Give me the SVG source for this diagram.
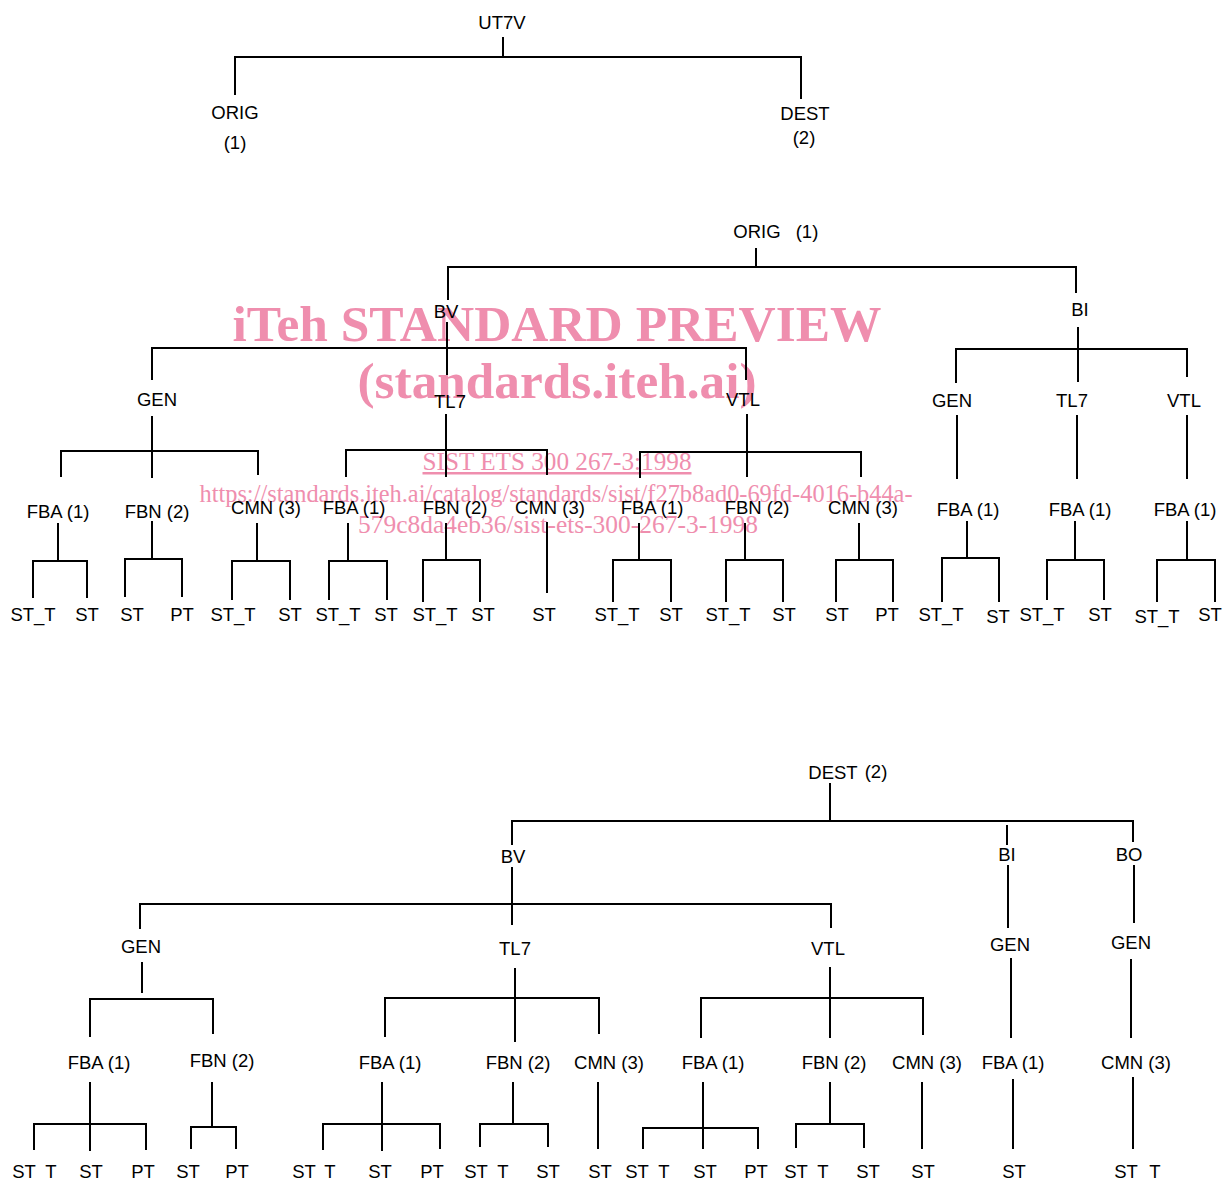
<svg xmlns="http://www.w3.org/2000/svg" width="1223" height="1180" viewBox="0 0 1223 1180">
<style>
.bg{fill:#ffffff}
.wm{font-family:"Liberation Serif","Times New Roman",serif;fill:#ef8eae;text-anchor:middle}
.wmb{font-weight:bold;font-size:51px}
.wms{font-size:25px}
.t{font-family:"Liberation Sans",Arial,sans-serif;font-size:18.5px;fill:#000;text-anchor:middle}
.c path{fill:none;stroke:#000;stroke-width:2}
</style>
<rect class="bg" x="0" y="0" width="1223" height="1180"/>
<g id="watermark">
<text class="wm wmb" x="557" y="341" textLength="649" lengthAdjust="spacingAndGlyphs">iTeh STANDARD PREVIEW</text>
<text class="wm wmb" x="557" y="398" textLength="399" lengthAdjust="spacingAndGlyphs">(standards.iteh.ai)</text>
<text class="wm wms" x="557" y="470" text-decoration="underline" textLength="269" lengthAdjust="spacingAndGlyphs">SIST ETS 300 267-3:1998</text>
<text class="wm wms" x="556" y="502" textLength="713" lengthAdjust="spacingAndGlyphs">https://standards.iteh.ai/catalog/standards/sist/f27b8ad0-69fd-4016-b44a-</text>
<text class="wm wms" x="558" y="533" textLength="400" lengthAdjust="spacingAndGlyphs">579c8da4eb36/sist-ets-300-267-3-1998</text>
</g>
<g id="connectors" class="c">
<!-- top -->
<path d="M503 37V57M235 95V57H801V99"/>
<!-- ORIG tree -->
<path d="M756 248V267M448 300V267H1076V293"/>
<path d="M447 322V375M152 380V348H746V380"/>
<path d="M152 416V478M61 477V451H258V475"/>
<path d="M446 414V477M346 477V450H547V475"/>
<path d="M747 414V477M640 478V452H861V477"/>
<path d="M58 523V561M33 598V561H87V598"/>
<path d="M152 521V559M125 597V559H182V597"/>
<path d="M257 523V561M232 600V561H290V600"/>
<path d="M348 523V561M329 600V561H387V600"/>
<path d="M446 523V560M423 602V560H480V602"/>
<path d="M547 522V593"/>
<path d="M639 523V560M613 602V560H671V602"/>
<path d="M745 523V560M726 602V560H783V602"/>
<path d="M859 523V560M836 602V560H893V602"/>
<path d="M1078 327V382M956 383V349H1187V377"/>
<path d="M957 415V479M1077 415V479M1187 415V479"/>
<path d="M967 521V558M942 602V558H999V602"/>
<path d="M1075 521V560M1047 600V560H1104V600"/>
<path d="M1187 521V560M1157 602V560H1215V602"/>
<!-- DEST tree -->
<path d="M830 783V821M512 845V821H1133V842M1007 825V845"/>
<path d="M512 867V925M140 929V904H831V928"/>
<path d="M1008 865V928M1011 958V1038M1013 1079V1149"/>
<path d="M1134 865V923M1131 959V1038M1133 1077V1149"/>
<path d="M142 962V993M90 1037V999H213V1034"/>
<path d="M90 1082V1151M34 1150V1124H146V1150"/>
<path d="M212 1082V1127M191 1149V1127H236V1149"/>
<path d="M515 968V1042M385 1037V998H599V1034"/>
<path d="M382 1082V1151M323 1150V1124H440V1149"/>
<path d="M513 1082V1124M480 1147V1124H548V1147"/>
<path d="M598 1082V1149"/>
<path d="M830 967V1038M701 1038V998H923V1035"/>
<path d="M703 1082V1149M643 1149V1128H758V1149"/>
<path d="M830 1082V1124M796 1148V1124H864V1148"/>
<path d="M922 1082V1149"/>
</g>
<g id="n-ut7v"><text class="t" x="502" y="29">UT7V</text></g>
<g id="n-orig-top"><text class="t" x="235" y="119">ORIG</text><text class="t" x="235" y="149">(1)</text></g>
<g id="n-dest-top"><text class="t" x="805" y="120">DEST</text><text class="t" x="804" y="144">(2)</text></g>
<g id="n-orig"><text class="t" x="757" y="238">ORIG</text><text class="t" x="807" y="238">(1)</text></g>
<g id="n-o-bv"><text class="t" x="446" y="318">BV</text></g>
<g id="n-o-bi"><text class="t" x="1080" y="316">BI</text></g>
<g id="n-o-bv-gen"><text class="t" x="157" y="406">GEN</text></g>
<g id="n-o-bv-tl7"><text class="t" x="450" y="408">TL7</text></g>
<g id="n-o-bv-vtl"><text class="t" x="743" y="406">VTL</text></g>
<g id="n-o-bi-gen"><text class="t" x="952" y="407">GEN</text></g>
<g id="n-o-bi-tl7"><text class="t" x="1072" y="407">TL7</text></g>
<g id="n-o-bi-vtl"><text class="t" x="1184" y="407">VTL</text></g>
<g id="n-o-fb-row">
<text class="t" x="58" y="518">FBA (1)</text>
<text class="t" x="157" y="518">FBN (2)</text>
<text class="t" x="266" y="514">CMN (3)</text>
<text class="t" x="354" y="514">FBA (1)</text>
<text class="t" x="455" y="514">FBN (2)</text>
<text class="t" x="550" y="514">CMN (3)</text>
<text class="t" x="652" y="514">FBA (1)</text>
<text class="t" x="757" y="514">FBN (2)</text>
<text class="t" x="863" y="514">CMN (3)</text>
<text class="t" x="968" y="516">FBA (1)</text>
<text class="t" x="1080" y="516">FBA (1)</text>
<text class="t" x="1185" y="516">FBA (1)</text>
</g>
<g id="n-o-leaves">
<text class="t" x="33" y="621">ST_T</text>
<text class="t" x="87" y="621">ST</text>
<text class="t" x="132" y="621">ST</text>
<text class="t" x="182" y="621">PT</text>
<text class="t" x="233" y="621">ST_T</text>
<text class="t" x="290" y="621">ST</text>
<text class="t" x="338" y="621">ST_T</text>
<text class="t" x="386" y="621">ST</text>
<text class="t" x="435" y="621">ST_T</text>
<text class="t" x="483" y="621">ST</text>
<text class="t" x="544" y="621">ST</text>
<text class="t" x="617" y="621">ST_T</text>
<text class="t" x="671" y="621">ST</text>
<text class="t" x="728" y="621">ST_T</text>
<text class="t" x="784" y="621">ST</text>
<text class="t" x="837" y="621">ST</text>
<text class="t" x="887" y="621">PT</text>
<text class="t" x="941" y="621">ST_T</text>
<text class="t" x="998" y="623">ST</text>
<text class="t" x="1042" y="621">ST_T</text>
<text class="t" x="1100" y="621">ST</text>
<text class="t" x="1157" y="623">ST_T</text>
<text class="t" x="1210" y="621">ST</text>
</g>
<g id="n-dest"><text class="t" x="833" y="779">DEST</text><text class="t" x="876" y="778">(2)</text></g>
<g id="n-d-bv"><text class="t" x="513" y="863">BV</text></g>
<g id="n-d-bi"><text class="t" x="1007" y="861">BI</text></g>
<g id="n-d-bo"><text class="t" x="1129" y="861">BO</text></g>
<g id="n-d-bv-gen"><text class="t" x="141" y="953">GEN</text></g>
<g id="n-d-bv-tl7"><text class="t" x="515" y="955">TL7</text></g>
<g id="n-d-bv-vtl"><text class="t" x="828" y="955">VTL</text></g>
<g id="n-d-bi-gen"><text class="t" x="1010" y="951">GEN</text></g>
<g id="n-d-bo-gen"><text class="t" x="1131" y="949">GEN</text></g>
<g id="n-d-fb-row">
<text class="t" x="99" y="1069">FBA (1)</text>
<text class="t" x="222" y="1067">FBN (2)</text>
<text class="t" x="390" y="1069">FBA (1)</text>
<text class="t" x="518" y="1069">FBN (2)</text>
<text class="t" x="609" y="1069">CMN (3)</text>
<text class="t" x="713" y="1069">FBA (1)</text>
<text class="t" x="834" y="1069">FBN (2)</text>
<text class="t" x="927" y="1069">CMN (3)</text>
<text class="t" x="1013" y="1069">FBA (1)</text>
<text class="t" x="1136" y="1069">CMN (3)</text>
</g>
<g id="n-d-leaves">
<text class="t" y="1178"><tspan x="24">ST</tspan><tspan x="51">T</tspan></text>
<text class="t" x="91" y="1178">ST</text>
<text class="t" x="143" y="1178">PT</text>
<text class="t" x="188" y="1178">ST</text>
<text class="t" x="237" y="1178">PT</text>
<text class="t" y="1178"><tspan x="304">ST</tspan><tspan x="330">T</tspan></text>
<text class="t" x="380" y="1178">ST</text>
<text class="t" x="432" y="1178">PT</text>
<text class="t" y="1178"><tspan x="476">ST</tspan><tspan x="503">T</tspan></text>
<text class="t" x="548" y="1178">ST</text>
<text class="t" x="600" y="1178">ST</text>
<text class="t" y="1178"><tspan x="637">ST</tspan><tspan x="664">T</tspan></text>
<text class="t" x="705" y="1178">ST</text>
<text class="t" x="756" y="1178">PT</text>
<text class="t" y="1178"><tspan x="796">ST</tspan><tspan x="823">T</tspan></text>
<text class="t" x="868" y="1178">ST</text>
<text class="t" x="923" y="1178">ST</text>
<text class="t" x="1014" y="1178">ST</text>
<text class="t" y="1178"><tspan x="1126">ST</tspan><tspan x="1155">T</tspan></text>
</g>
</svg>
